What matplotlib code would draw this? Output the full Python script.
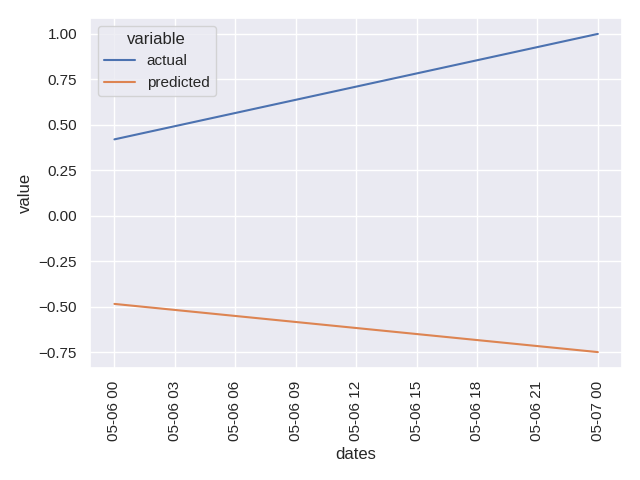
import matplotlib
matplotlib.use('Agg')
import matplotlib.pyplot as plt
import matplotlib.dates as mdates
import pandas as pd
import seaborn as sns

dates = pd.to_datetime(['2021-05-06 00:00', '2021-05-07 00:00'])
actual = [0.42, 1.00]
predicted = [-0.485, -0.75]

df = pd.DataFrame({'dates': dates, 'actual': actual, 'predicted': predicted})
long_df = df.melt(id_vars='dates', value_vars=['actual', 'predicted'])

sns.set_theme()
plt.rcParams['font.family'] = ['Liberation Sans', 'DejaVu Sans']
fig, ax = plt.subplots(figsize=(6.4, 4.8), dpi=100)
sns.lineplot(data=long_df, x='dates', y='value', hue='variable', ax=ax)
ax.xaxis.set_major_locator(mdates.HourLocator(byhour=range(0, 24, 3)))
ax.xaxis.set_major_formatter(mdates.DateFormatter('%m-%d %H'))
plt.xticks(rotation=90)
plt.tight_layout()
plt.savefig('out.png', dpi=100)
